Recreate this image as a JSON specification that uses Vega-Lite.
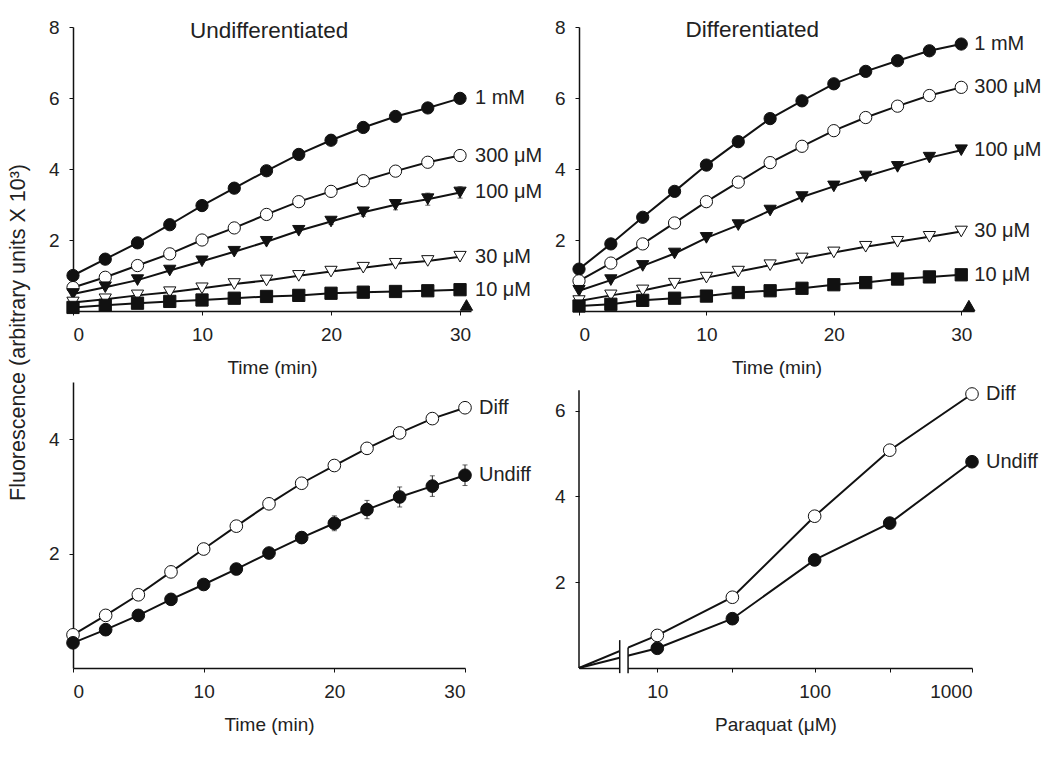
{
  "$schema": "https://vega.github.io/schema/vega-lite/v6.json",
  "padding": {"left": 6, "top": 18, "right": 5, "bottom": 5},
  "background": "white",
  "config": {
    "font": "Liberation Sans",
    "view": {"stroke": null},
    "axis": {
      "grid": false, "domainColor": "#111", "domainWidth": 1.5,
      "tickColor": "#111", "tickSize": 4, "tickWidth": 1,
      "labelFont": "Liberation Sans", "labelFontSize": 19, "labelColor": "#222", "labelPadding": 10,
      "titleFont": "Liberation Sans", "titleFontSize": 19, "titleFontWeight": "normal", "titleColor": "#222", "titlePadding": 14
    },
    "text": {"font": "Liberation Sans", "fontSize": 20, "color": "#222"}
  },
  "datasets": {
    "undiff": [
      {"t": 0, "v": 1.0, "s": "1 mM"}, {"t": 2.5, "v": 1.46, "s": "1 mM"}, {"t": 5, "v": 1.92, "s": "1 mM"}, {"t": 7.5, "v": 2.43, "s": "1 mM"}, {"t": 10, "v": 2.97, "s": "1 mM"}, {"t": 12.5, "v": 3.46, "s": "1 mM"}, {"t": 15, "v": 3.95, "s": "1 mM"}, {"t": 17.5, "v": 4.41, "s": "1 mM"}, {"t": 20, "v": 4.81, "s": "1 mM"}, {"t": 22.5, "v": 5.17, "s": "1 mM"}, {"t": 25, "v": 5.48, "s": "1 mM"}, {"t": 27.5, "v": 5.72, "s": "1 mM"}, {"t": 30, "v": 5.99, "s": "1 mM"},
      {"t": 0, "v": 0.66, "s": "300 μM"}, {"t": 2.5, "v": 0.95, "s": "300 μM"}, {"t": 5, "v": 1.28, "s": "300 μM"}, {"t": 7.5, "v": 1.61, "s": "300 μM"}, {"t": 10, "v": 2.0, "s": "300 μM"}, {"t": 12.5, "v": 2.34, "s": "300 μM"}, {"t": 15, "v": 2.72, "s": "300 μM"}, {"t": 17.5, "v": 3.08, "s": "300 μM"}, {"t": 20, "v": 3.37, "s": "300 μM"}, {"t": 22.5, "v": 3.67, "s": "300 μM"}, {"t": 25, "v": 3.94, "s": "300 μM"}, {"t": 27.5, "v": 4.19, "s": "300 μM"}, {"t": 30, "v": 4.38, "s": "300 μM"},
      {"t": 0, "v": 0.48, "s": "100 μM", "e": 0.02}, {"t": 2.5, "v": 0.67, "s": "100 μM", "e": 0.02}, {"t": 5, "v": 0.87, "s": "100 μM", "e": 0.02}, {"t": 7.5, "v": 1.14, "s": "100 μM", "e": 0.03}, {"t": 10, "v": 1.40, "s": "100 μM", "e": 0.03}, {"t": 12.5, "v": 1.67, "s": "100 μM", "e": 0.04}, {"t": 15, "v": 1.95, "s": "100 μM", "e": 0.05}, {"t": 17.5, "v": 2.26, "s": "100 μM", "e": 0.06}, {"t": 20, "v": 2.52, "s": "100 μM", "e": 0.08}, {"t": 22.5, "v": 2.78, "s": "100 μM", "e": 0.11}, {"t": 25, "v": 2.99, "s": "100 μM", "e": 0.14}, {"t": 27.5, "v": 3.15, "s": "100 μM", "e": 0.17}, {"t": 30, "v": 3.34, "s": "100 μM", "e": 0.16},
      {"t": 0, "v": 0.24, "s": "30 μM"}, {"t": 2.5, "v": 0.33, "s": "30 μM"}, {"t": 5, "v": 0.44, "s": "30 μM"}, {"t": 7.5, "v": 0.53, "s": "30 μM"}, {"t": 10, "v": 0.64, "s": "30 μM"}, {"t": 12.5, "v": 0.76, "s": "30 μM"}, {"t": 15, "v": 0.86, "s": "30 μM"}, {"t": 17.5, "v": 0.99, "s": "30 μM"}, {"t": 20, "v": 1.11, "s": "30 μM"}, {"t": 22.5, "v": 1.22, "s": "30 μM"}, {"t": 25, "v": 1.33, "s": "30 μM"}, {"t": 27.5, "v": 1.41, "s": "30 μM"}, {"t": 30, "v": 1.53, "s": "30 μM"},
      {"t": 0, "v": 0.1, "s": "10 μM"}, {"t": 2.5, "v": 0.16, "s": "10 μM"}, {"t": 5, "v": 0.22, "s": "10 μM"}, {"t": 7.5, "v": 0.27, "s": "10 μM"}, {"t": 10, "v": 0.31, "s": "10 μM"}, {"t": 12.5, "v": 0.36, "s": "10 μM"}, {"t": 15, "v": 0.41, "s": "10 μM"}, {"t": 17.5, "v": 0.44, "s": "10 μM"}, {"t": 20, "v": 0.5, "s": "10 μM"}, {"t": 22.5, "v": 0.53, "s": "10 μM"}, {"t": 25, "v": 0.55, "s": "10 μM"}, {"t": 27.5, "v": 0.57, "s": "10 μM"}, {"t": 30, "v": 0.6, "s": "10 μM"},
      {"t": 30.5, "v": 0.17, "s": "ctrl"}
    ],
    "diff": [
      {"t": 0, "v": 1.18, "s": "1 mM"}, {"t": 2.5, "v": 1.89, "s": "1 mM"}, {"t": 5, "v": 2.64, "s": "1 mM"}, {"t": 7.5, "v": 3.37, "s": "1 mM"}, {"t": 10, "v": 4.11, "s": "1 mM"}, {"t": 12.5, "v": 4.77, "s": "1 mM"}, {"t": 15, "v": 5.42, "s": "1 mM"}, {"t": 17.5, "v": 5.92, "s": "1 mM"}, {"t": 20, "v": 6.40, "s": "1 mM"}, {"t": 22.5, "v": 6.75, "s": "1 mM"}, {"t": 25, "v": 7.05, "s": "1 mM"}, {"t": 27.5, "v": 7.33, "s": "1 mM"}, {"t": 30, "v": 7.52, "s": "1 mM"},
      {"t": 0, "v": 0.85, "s": "300 μM"}, {"t": 2.5, "v": 1.35, "s": "300 μM"}, {"t": 5, "v": 1.89, "s": "300 μM"}, {"t": 7.5, "v": 2.48, "s": "300 μM"}, {"t": 10, "v": 3.08, "s": "300 μM"}, {"t": 12.5, "v": 3.63, "s": "300 μM"}, {"t": 15, "v": 4.18, "s": "300 μM"}, {"t": 17.5, "v": 4.64, "s": "300 μM"}, {"t": 20, "v": 5.08, "s": "300 μM"}, {"t": 22.5, "v": 5.45, "s": "300 μM"}, {"t": 25, "v": 5.77, "s": "300 μM"}, {"t": 27.5, "v": 6.07, "s": "300 μM"}, {"t": 30, "v": 6.30, "s": "300 μM"},
      {"t": 0, "v": 0.57, "s": "100 μM"}, {"t": 2.5, "v": 0.87, "s": "100 μM"}, {"t": 5, "v": 1.27, "s": "100 μM"}, {"t": 7.5, "v": 1.62, "s": "100 μM"}, {"t": 10, "v": 2.06, "s": "100 μM"}, {"t": 12.5, "v": 2.42, "s": "100 μM"}, {"t": 15, "v": 2.83, "s": "100 μM"}, {"t": 17.5, "v": 3.21, "s": "100 μM"}, {"t": 20, "v": 3.51, "s": "100 μM"}, {"t": 22.5, "v": 3.79, "s": "100 μM"}, {"t": 25, "v": 4.06, "s": "100 μM"}, {"t": 27.5, "v": 4.32, "s": "100 μM"}, {"t": 30, "v": 4.53, "s": "100 μM"},
      {"t": 0, "v": 0.28, "s": "30 μM"}, {"t": 2.5, "v": 0.44, "s": "30 μM"}, {"t": 5, "v": 0.58, "s": "30 μM"}, {"t": 7.5, "v": 0.77, "s": "30 μM"}, {"t": 10, "v": 0.94, "s": "30 μM"}, {"t": 12.5, "v": 1.11, "s": "30 μM"}, {"t": 15, "v": 1.29, "s": "30 μM"}, {"t": 17.5, "v": 1.48, "s": "30 μM"}, {"t": 20, "v": 1.65, "s": "30 μM"}, {"t": 22.5, "v": 1.81, "s": "30 μM"}, {"t": 25, "v": 1.95, "s": "30 μM"}, {"t": 27.5, "v": 2.09, "s": "30 μM"}, {"t": 30, "v": 2.24, "s": "30 μM"},
      {"t": 0, "v": 0.14, "s": "10 μM"}, {"t": 2.5, "v": 0.19, "s": "10 μM"}, {"t": 5, "v": 0.30, "s": "10 μM"}, {"t": 7.5, "v": 0.36, "s": "10 μM"}, {"t": 10, "v": 0.42, "s": "10 μM"}, {"t": 12.5, "v": 0.52, "s": "10 μM"}, {"t": 15, "v": 0.57, "s": "10 μM"}, {"t": 17.5, "v": 0.64, "s": "10 μM"}, {"t": 20, "v": 0.74, "s": "10 μM"}, {"t": 22.5, "v": 0.80, "s": "10 μM"}, {"t": 25, "v": 0.90, "s": "10 μM"}, {"t": 27.5, "v": 0.96, "s": "10 μM"}, {"t": 30, "v": 1.02, "s": "10 μM"},
      {"t": 30.6, "v": 0.15, "s": "ctrl"}
    ],
    "cmp": [
      {"t": 0, "v": 0.58, "s": "Diff"}, {"t": 2.5, "v": 0.92, "s": "Diff"}, {"t": 5, "v": 1.28, "s": "Diff"}, {"t": 7.5, "v": 1.68, "s": "Diff"}, {"t": 10, "v": 2.08, "s": "Diff"}, {"t": 12.5, "v": 2.48, "s": "Diff"}, {"t": 15, "v": 2.87, "s": "Diff"}, {"t": 17.5, "v": 3.23, "s": "Diff"}, {"t": 20, "v": 3.54, "s": "Diff"}, {"t": 22.5, "v": 3.84, "s": "Diff"}, {"t": 25, "v": 4.11, "s": "Diff"}, {"t": 27.5, "v": 4.36, "s": "Diff"}, {"t": 30, "v": 4.55, "s": "Diff"},
      {"t": 0, "v": 0.44, "s": "Undiff", "e": 0.03}, {"t": 2.5, "v": 0.67, "s": "Undiff", "e": 0.03}, {"t": 5, "v": 0.92, "s": "Undiff", "e": 0.03}, {"t": 7.5, "v": 1.20, "s": "Undiff", "e": 0.04}, {"t": 10, "v": 1.46, "s": "Undiff", "e": 0.05}, {"t": 12.5, "v": 1.73, "s": "Undiff", "e": 0.06}, {"t": 15, "v": 2.01, "s": "Undiff", "e": 0.07}, {"t": 17.5, "v": 2.28, "s": "Undiff", "e": 0.10}, {"t": 20, "v": 2.53, "s": "Undiff", "e": 0.13}, {"t": 22.5, "v": 2.77, "s": "Undiff", "e": 0.16}, {"t": 25, "v": 2.99, "s": "Undiff", "e": 0.175}, {"t": 27.5, "v": 3.18, "s": "Undiff", "e": 0.18}, {"t": 30, "v": 3.37, "s": "Undiff", "e": 0.18}
    ],
    "dose": [
      {"c": 3.18, "v": 0, "s": "Diff"}, {"c": 10, "v": 0.76, "s": "Diff"}, {"c": 30, "v": 1.65, "s": "Diff"}, {"c": 100, "v": 3.54, "s": "Diff"}, {"c": 300, "v": 5.08, "s": "Diff"}, {"c": 1000, "v": 6.39, "s": "Diff"},
      {"c": 3.18, "v": 0, "s": "Undiff"}, {"c": 10, "v": 0.46, "s": "Undiff"}, {"c": 30, "v": 1.15, "s": "Undiff"}, {"c": 100, "v": 2.52, "s": "Undiff"}, {"c": 300, "v": 3.38, "s": "Undiff"}, {"c": 1000, "v": 4.81, "s": "Undiff"}
    ]
  },
  "columns": 2,
  "spacing": {"row": 71, "column": 108},
  "bounds": "flush",
  "concat": [
    {
      "width": 398, "height": 284,
      "data": {"name": "undiff"},
      "layer": [
        {
          "transform": [{"filter": "datum.s != 'ctrl'"}],
          "mark": {"type": "line", "color": "#111", "strokeWidth": 2},
          "encoding": {
            "x": {"field": "t", "type": "quantitative", "title": "Time (min)", "scale": {"domain": [0, 30.85], "nice": false}, "axis": {"values": [0, 10, 20, 30]}},
            "y": {"field": "v", "type": "quantitative", "title": null, "scale": {"domain": [0, 8], "nice": false}, "axis": {"values": [2, 4, 6, 8], "format": "d"}},
            "detail": {"field": "s"}
          }
        },
        {
          "transform": [{"filter": "datum.s == '100 μM' && datum.t >= 20"}],
          "mark": {"type": "errorbar", "ticks": true, "color": "#222"},
          "encoding": {
            "x": {"field": "t", "type": "quantitative", "title": "Time (min)"},
            "y": {"field": "v", "type": "quantitative", "title": null},
            "yError": {"field": "e"}
          }
        },
        {
          "mark": {"type": "point", "filled": true, "opacity": 1, "stroke": "#111", "strokeWidth": 1},
          "encoding": {
            "x": {"field": "t", "type": "quantitative", "title": "Time (min)"},
            "y": {"field": "v", "type": "quantitative", "title": null},
            "shape": {"field": "s", "scale": {"domain": ["1 mM", "300 μM", "100 μM", "30 μM", "10 μM", "ctrl"], "range": ["circle", "circle", "triangle-down", "triangle-down", "square", "triangle-up"]}, "legend": null},
            "fill": {"field": "s", "scale": {"domain": ["1 mM", "300 μM", "100 μM", "30 μM", "10 μM", "ctrl"], "range": ["#111", "white", "#111", "white", "#111", "#111"]}, "legend": null},
            "size": {"field": "s", "scale": {"domain": ["1 mM", "300 μM", "100 μM", "30 μM", "10 μM", "ctrl"], "range": [150, 150, 170, 170, 145, 110]}, "legend": null}
          }
        },
        {
          "transform": [{"filter": "datum.t == 30"}],
          "mark": {"type": "text", "align": "left", "baseline": "middle", "dx": 15},
          "encoding": {
            "x": {"field": "t", "type": "quantitative", "title": "Time (min)"},
            "y": {"field": "v", "type": "quantitative", "title": null},
            "text": {"field": "s"}
          }
        },
        {
          "data": {"values": [{"t": 15.2, "v": 7.88, "label": "Undifferentiated"}]},
          "mark": {"type": "text", "align": "center", "baseline": "middle", "fontSize": 22.5},
          "encoding": {
            "x": {"field": "t", "type": "quantitative", "title": "Time (min)"},
            "y": {"field": "v", "type": "quantitative", "title": null},
            "text": {"field": "label"}
          }
        }
      ]
    },
    {
      "width": 395, "height": 284,
      "data": {"name": "diff"},
      "layer": [
        {
          "transform": [{"filter": "datum.s != 'ctrl'"}],
          "mark": {"type": "line", "color": "#111", "strokeWidth": 2},
          "encoding": {
            "x": {"field": "t", "type": "quantitative", "title": "Time (min)", "scale": {"domain": [0, 31], "nice": false}, "axis": {"values": [0, 10, 20, 30]}},
            "y": {"field": "v", "type": "quantitative", "title": null, "scale": {"domain": [0, 8], "nice": false}, "axis": {"values": [2, 4, 6, 8], "format": "d"}},
            "detail": {"field": "s"}
          }
        },
        {
          "mark": {"type": "point", "filled": true, "opacity": 1, "stroke": "#111", "strokeWidth": 1},
          "encoding": {
            "x": {"field": "t", "type": "quantitative", "title": "Time (min)"},
            "y": {"field": "v", "type": "quantitative", "title": null},
            "shape": {"field": "s", "scale": {"domain": ["1 mM", "300 μM", "100 μM", "30 μM", "10 μM", "ctrl"], "range": ["circle", "circle", "triangle-down", "triangle-down", "square", "triangle-up"]}, "legend": null},
            "fill": {"field": "s", "scale": {"domain": ["1 mM", "300 μM", "100 μM", "30 μM", "10 μM", "ctrl"], "range": ["#111", "white", "#111", "white", "#111", "#111"]}, "legend": null},
            "size": {"field": "s", "scale": {"domain": ["1 mM", "300 μM", "100 μM", "30 μM", "10 μM", "ctrl"], "range": [150, 150, 170, 170, 145, 110]}, "legend": null}
          }
        },
        {
          "transform": [{"filter": "datum.t == 30"}],
          "mark": {"type": "text", "align": "left", "baseline": "middle", "dx": 13},
          "encoding": {
            "x": {"field": "t", "type": "quantitative", "title": "Time (min)"},
            "y": {"field": "v", "type": "quantitative", "title": null},
            "text": {"field": "s"}
          }
        },
        {
          "data": {"values": [{"t": 13.6, "v": 7.92, "label": "Differentiated"}]},
          "mark": {"type": "text", "align": "center", "baseline": "middle", "fontSize": 22.5},
          "encoding": {
            "x": {"field": "t", "type": "quantitative", "title": "Time (min)"},
            "y": {"field": "v", "type": "quantitative", "title": null},
            "text": {"field": "label"}
          }
        }
      ]
    },
    {
      "width": 392, "height": 286,
      "data": {"name": "cmp"},
      "layer": [
        {
          "mark": {"type": "line", "color": "#111", "strokeWidth": 2},
          "encoding": {
            "x": {"field": "t", "type": "quantitative", "title": "Time (min)", "scale": {"domain": [0, 30], "nice": false}, "axis": {"values": [0, 10, 20, 30]}},
            "y": {"field": "v", "type": "quantitative", "title": "Fluorescence (arbitrary units X 10³)", "scale": {"domain": [0, 5], "nice": false}, "axis": {"values": [2, 4], "format": "d", "titleX": -55, "titleY": -50, "titleAngle": -90, "titleAlign": "center", "titleBaseline": "middle", "titleFontSize": 21.5}},
            "detail": {"field": "s"}
          }
        },
        {
          "transform": [{"filter": "datum.s == 'Undiff' && datum.t >= 15"}],
          "mark": {"type": "errorbar", "ticks": true, "color": "#222"},
          "encoding": {
            "x": {"field": "t", "type": "quantitative", "title": "Time (min)"},
            "y": {"field": "v", "type": "quantitative", "title": "Fluorescence (arbitrary units X 10³)"},
            "yError": {"field": "e"}
          }
        },
        {
          "mark": {"type": "point", "filled": true, "opacity": 1, "stroke": "#111", "strokeWidth": 1, "shape": "circle", "size": 160},
          "encoding": {
            "x": {"field": "t", "type": "quantitative", "title": "Time (min)"},
            "y": {"field": "v", "type": "quantitative", "title": "Fluorescence (arbitrary units X 10³)"},
            "fill": {"field": "s", "scale": {"domain": ["Undiff", "Diff"], "range": ["#111", "white"]}, "legend": null}
          }
        },
        {
          "transform": [{"filter": "datum.t == 30"}],
          "mark": {"type": "text", "align": "left", "baseline": "middle", "dx": 14},
          "encoding": {
            "x": {"field": "t", "type": "quantitative", "title": "Time (min)"},
            "y": {"field": "v", "type": "quantitative", "title": "Fluorescence (arbitrary units X 10³)"},
            "text": {"field": "s"}
          }
        }
      ]
    },
    {
      "width": 393, "height": 286,
      "data": {"name": "dose"},
      "layer": [
        {
          "mark": {"type": "line", "color": "#111", "strokeWidth": 2},
          "encoding": {
            "x": {"field": "c", "type": "quantitative", "title": "Paraquat (μM)", "scale": {"type": "log", "domain": [3.18, 1000], "nice": false}, "axis": {"values": [10, 30, 100, 300, 1000], "format": "d", "labelExpr": "datum.value == 30 || datum.value == 300 ? '' : datum.label"}},
            "y": {"field": "v", "type": "quantitative", "title": null, "scale": {"domain": [0, 6.67], "nice": false}, "axis": {"values": [2, 4, 6], "format": "d", "domain": false}},
            "detail": {"field": "s"}
          }
        },
        {
          "data": {"values": [{"c": 5.77, "c2": 6.52, "v": -0.14, "v2": 0.7}]},
          "mark": {"type": "rect", "color": "white"},
          "encoding": {
            "x": {"field": "c", "type": "quantitative", "title": "Paraquat (μM)"},
            "x2": {"field": "c2"},
            "y": {"field": "v", "type": "quantitative", "title": null},
            "y2": {"field": "v2"}
          }
        },
        {
          "data": {"values": [{"c": 5.77, "v": -0.12, "v2": 0.65}, {"c": 6.52, "v": -0.12, "v2": 0.48}, {"c": 3.18, "v": 0, "v2": 6.48}]},
          "mark": {"type": "rule", "color": "#111", "strokeWidth": 1.5},
          "encoding": {
            "x": {"field": "c", "type": "quantitative", "title": "Paraquat (μM)"},
            "y": {"field": "v", "type": "quantitative", "title": null},
            "y2": {"field": "v2"}
          }
        },
        {
          "transform": [{"filter": "datum.c > 5"}],
          "mark": {"type": "point", "filled": true, "opacity": 1, "stroke": "#111", "strokeWidth": 1, "shape": "circle", "size": 160},
          "encoding": {
            "x": {"field": "c", "type": "quantitative", "title": "Paraquat (μM)"},
            "y": {"field": "v", "type": "quantitative", "title": null},
            "fill": {"field": "s", "scale": {"domain": ["Undiff", "Diff"], "range": ["#111", "white"]}, "legend": null}
          }
        },
        {
          "transform": [{"filter": "datum.c == 1000"}],
          "mark": {"type": "text", "align": "left", "baseline": "middle", "dx": 14},
          "encoding": {
            "x": {"field": "c", "type": "quantitative", "title": "Paraquat (μM)"},
            "y": {"field": "v", "type": "quantitative", "title": null},
            "text": {"field": "s"}
          }
        }
      ]
    }
  ]
}
